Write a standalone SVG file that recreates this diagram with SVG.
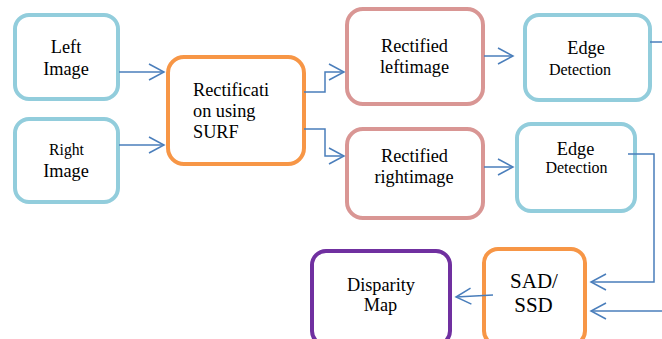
<svg xmlns="http://www.w3.org/2000/svg" width="662" height="339" viewBox="0 0 662 339">
<defs>
<marker id="ah" markerUnits="userSpaceOnUse" markerWidth="20" markerHeight="20" refX="16" refY="9" orient="auto" viewBox="0 0 20 18">
<path d="M1,1 L16,9 L1,17" fill="none" stroke="#4a7ebb" stroke-width="1.5"/>
</marker>
</defs>
<rect width="662" height="339" fill="#fff"/>
<g id="left-image"><rect fill="#fff" stroke="#92cddc" stroke-width="4" x="15" y="15" width="103" height="84" rx="14"/><text font-family="Liberation Serif" font-size="18.3" text-anchor="middle" x="66" y="53">Left</text><text font-family="Liberation Serif" font-size="18.3" text-anchor="middle" x="66" y="75">Image</text></g>
<g id="right-image"><rect fill="#fff" stroke="#92cddc" stroke-width="4" x="15" y="119" width="103" height="83" rx="14"/><text font-family="Liberation Serif" font-size="15.7" text-anchor="middle" x="66.5" y="155">Right</text><text font-family="Liberation Serif" font-size="18.3" text-anchor="middle" x="66" y="177">Image</text></g>
<g id="rectification"><rect fill="#fff" stroke="#f79646" stroke-width="4" x="168" y="57" width="136" height="107" rx="16"/><text font-family="Liberation Serif" font-size="18.3" x="193" y="96">Rectificati</text><text font-family="Liberation Serif" font-size="18.3" x="193" y="117">on using</text><text font-family="Liberation Serif" font-size="18.3" x="193" y="138">SURF</text></g>
<g id="rect-left"><rect fill="#fff" stroke="#d99694" stroke-width="4" x="347" y="9" width="136" height="95" rx="16"/><text font-family="Liberation Serif" font-size="18.3" text-anchor="middle" x="414.5" y="52">Rectified</text><text font-family="Liberation Serif" font-size="18.3" text-anchor="middle" x="414.5" y="73">leftimage</text></g>
<g id="rect-right"><rect fill="#fff" stroke="#d99694" stroke-width="4" x="347" y="129" width="136" height="89" rx="16"/><text font-family="Liberation Serif" font-size="18.3" text-anchor="middle" x="414.5" y="162">Rectified</text><text font-family="Liberation Serif" font-size="18.3" text-anchor="middle" x="414" y="183">rightimage</text></g>
<g id="edge-top"><rect fill="#fff" stroke="#92cddc" stroke-width="4" x="525" y="15" width="125" height="85" rx="14"/><text font-family="Liberation Serif" font-size="18.3" text-anchor="middle" x="586" y="54">Edge</text><text font-family="Liberation Serif" font-size="16" text-anchor="middle" x="580" y="75">Detection</text></g>
<g id="edge-bottom"><rect fill="#fff" stroke="#92cddc" stroke-width="4" x="517" y="124" width="118" height="87" rx="14"/><text font-family="Liberation Serif" font-size="18.3" text-anchor="middle" x="575.5" y="155">Edge</text><text font-family="Liberation Serif" font-size="16" text-anchor="middle" x="576.5" y="173">Detection</text></g>
<g id="sad-ssd"><rect fill="#fff" stroke="#f79646" stroke-width="4" x="484" y="249" width="101" height="96" rx="14"/><text font-family="Liberation Serif" font-size="21" text-anchor="middle" x="534" y="288">SAD/</text><text font-family="Liberation Serif" font-size="21" text-anchor="middle" x="533.5" y="312">SSD</text></g>
<g id="disparity-map"><rect fill="#fff" stroke="#7030a0" stroke-width="4" x="312" y="251" width="138" height="94" rx="14"/><text font-family="Liberation Serif" font-size="18.3" text-anchor="middle" x="381" y="291">Disparity</text><text font-family="Liberation Serif" font-size="18.3" text-anchor="middle" x="380.5" y="311">Map</text></g>
<g id="connectors" fill="none" stroke="#4a7ebb" stroke-width="1.5">
<path d="M119,72 H164" marker-end="url(#ah)"/>
<path d="M119,145 H164" marker-end="url(#ah)"/>
<path d="M304,92 H325 V72 H344" marker-end="url(#ah)"/>
<path d="M304,129 H325 V156 H344" marker-end="url(#ah)"/>
<path d="M484,56 H513" marker-end="url(#ah)"/>
<path d="M484,167 H513" marker-end="url(#ah)"/>
<path d="M650,42 H662"/>
<path d="M628,154 H654 V282 H591" marker-end="url(#ah)"/>
<path d="M662,311 H591" marker-end="url(#ah)"/>
<path d="M493,295 L456,297" marker-end="url(#ah)"/>
</g>
</svg>
